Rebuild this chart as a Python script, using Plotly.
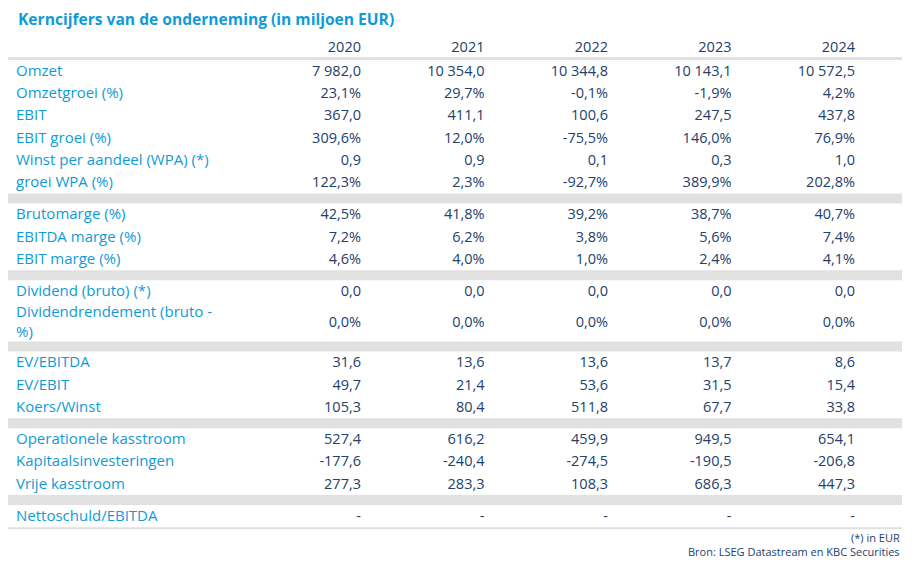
import plotly.graph_objects as go

# kolommen
years = ["2020", "2021", "2022", "2023", "2024"]

# rijen (waarden in miljoen EUR, % of ratio)
omzet = [7982.0, 10354.0, 10344.8, 10143.1, 10572.5]
omzetgroei = [23.1, 29.7, -0.1, -1.9, 4.2]
ebit = [367.0, 411.1, 100.6, 247.5, 437.8]
ebit_groei = [309.6, 12.0, -75.5, 146.0, 76.9]
wpa = [0.9, 0.9, 0.1, 0.3, 1.0]
groei_wpa = [122.3, 2.3, -92.7, 389.9, 202.8]
brutomarge = [42.5, 41.8, 39.2, 38.7, 40.7]
ebitda_marge = [7.2, 6.2, 3.8, 5.6, 7.4]
ebit_marge = [4.6, 4.0, 1.0, 2.4, 4.1]
dividend = [0.0, 0.0, 0.0, 0.0, 0.0]
dividendrendement = [0.0, 0.0, 0.0, 0.0, 0.0]
ev_ebitda = [31.6, 13.6, 13.6, 13.7, 8.6]
ev_ebit = [49.7, 21.4, 53.6, 31.5, 15.4]
koers_winst = [105.3, 80.4, 511.8, 67.7, 33.8]
op_kasstroom = [527.4, 616.2, 459.9, 949.5, 654.1]
kapitaalsinv = [-177.6, -240.4, -274.5, -190.5, -206.8]
vrije_kasstroom = [277.3, 283.3, 108.3, 686.3, 447.3]
nettoschuld_ebitda = [None, None, None, None, None]

# groepen: (label, waarden, procent?)
groups = [
    [("Omzet", omzet, False),
     ("Omzetgroei (%)", omzetgroei, True),
     ("EBIT", ebit, False),
     ("EBIT groei (%)", ebit_groei, True),
     ("Winst per aandeel (WPA) (*)", wpa, False),
     ("groei WPA (%)", groei_wpa, True)],
    [("Brutomarge (%)", brutomarge, True),
     ("EBITDA marge (%)", ebitda_marge, True),
     ("EBIT marge (%)", ebit_marge, True)],
    [("Dividend (bruto) (*)", dividend, False),
     ("Dividendrendement (bruto -<br>%)", dividendrendement, True)],
    [("EV/EBITDA", ev_ebitda, False),
     ("EV/EBIT", ev_ebit, False),
     ("Koers/Winst", koers_winst, False)],
    [("Operationele kasstroom", op_kasstroom, False),
     ("Kapitaalsinvesteringen", kapitaalsinv, False),
     ("Vrije kasstroom", vrije_kasstroom, False)],
    [("Nettoschuld/EBITDA", nettoschuld_ebitda, False)],
]


def fmt(v, pct):
    if v is None:
        return "-"
    s = f"{abs(v):,.1f}".replace(",", " ").replace(".", ",")
    if v < 0:
        s = "-" + s
    return s + ("%" if pct else "")


BLUE = "#0f9bd7"
NAVY = "#23416b"
GREY = "#e1e1e1"
FONT = "Open Sans"

ROW_H = 22.25
ROW2_H = 39
SEP_H = 10
LEFT, RIGHT = 4, 902
COL_X0, COL_DX = 361, 123.5
LABEL_X = 16
TXT_DY = 1  # tekst iets lager dan het midden van de rij
BODY = 8  # standaard marge van <body> in de html-pagina

col_x = [COL_X0 + i * COL_DX for i in range(len(years))]

# verticale opbouw
y = 60
lab_x, lab_y, lab_t = [], [], []
val_x, val_y, val_t = [], [], []
sep_y, sep_w = [57 + 1.5], [3]
for gi, g in enumerate(groups):
    for label, vals, pct in g:
        h = ROW2_H if "<br>" in label else ROW_H
        c = y + h / 2 + TXT_DY
        lab_x.append(LABEL_X)
        lab_y.append(c)
        lab_t.append(label)
        for x, v in zip(col_x, vals):
            val_x.append(x)
            val_y.append(c)
            val_t.append(fmt(v, pct))
        y += h
    if gi < len(groups) - 1:
        sep_y.append(y + SEP_H / 2)
        sep_w.append(SEP_H)
        y += SEP_H
    else:
        sep_y.append(y + 1)
        sep_w.append(2)

fig = go.Figure()

fig.add_trace(go.Bar(
    orientation="h", y=sep_y, width=sep_w, x=[RIGHT - LEFT] * len(sep_y),
    base=LEFT, marker=dict(color=GREY, line_width=0), hoverinfo="skip"))

fig.add_trace(go.Scatter(
    x=col_x, y=[47 + TXT_DY] * len(years), text=years, mode="text",
    textposition="middle left", textfont=dict(family=FONT, size=14.5, color=NAVY),
    hoverinfo="skip"))

fig.add_trace(go.Scatter(
    x=lab_x, y=lab_y, text=lab_t, mode="text", textposition="middle right",
    textfont=dict(family=FONT, size=15, color=BLUE), hoverinfo="skip"))

fig.add_trace(go.Scatter(
    x=val_x, y=val_y, text=val_t, mode="text", textposition="middle left",
    textfont=dict(family=FONT, size=14.5, color=NAVY), hoverinfo="skip"))

fig.add_annotation(x=LABEL_X, y=18.5, xref="x", yref="y", xanchor="left",
                   yanchor="middle", showarrow=False,
                   text="<b>Kerncijfers van de onderneming (in miljoen EUR)</b>",
                   font=dict(family=FONT, size=15.6, color=BLUE))
fig.add_annotation(x=RIGHT, y=537, xref="x", yref="y", xanchor="right",
                   yanchor="middle", showarrow=False, text="(*) in EUR",
                   font=dict(family=FONT, size=11, color=NAVY))
fig.add_annotation(x=RIGHT, y=551, xref="x", yref="y", xanchor="right",
                   yanchor="middle", showarrow=False,
                   text="Bron: LSEG Datastream en KBC Securities",
                   font=dict(family=FONT, size=11, color=NAVY))

fig.update_layout(
    width=917 - 2 * BODY, height=567 - 2 * BODY,
    margin=dict(l=0, r=0, t=0, b=0),
    paper_bgcolor="white", plot_bgcolor="white", showlegend=False,
    xaxis=dict(range=[BODY, 917 - BODY], visible=False, fixedrange=True),
    yaxis=dict(range=[567 - BODY, BODY], visible=False, fixedrange=True),
)

fig.write_html("out.html")
